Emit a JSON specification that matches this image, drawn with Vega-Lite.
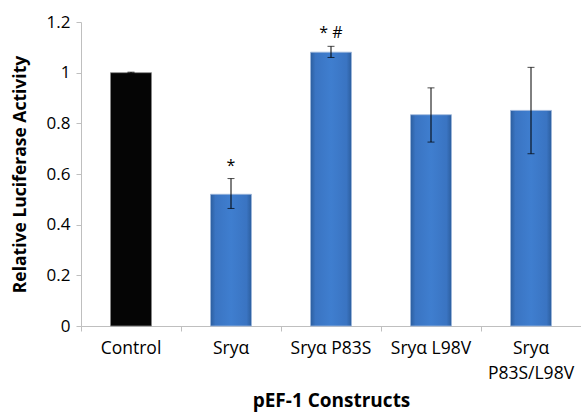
{
  "$schema": "https://vega.github.io/schema/vega-lite/v6.json",
  "width": 500,
  "height": 304,
  "autosize": "none",
  "padding": {"left": 81, "top": 22, "right": 0, "bottom": 86},
  "background": "white",
  "config": {
    "view": {"stroke": null},
    "font": "Open Sans",
    "axis": {"grid": false, "domainColor": "#bfbfbf", "tickColor": "#bfbfbf", "labelColor": "#000", "titleColor": "#000", "labelFont": "Open Sans", "titleFont": "Open Sans"}
  },
  "data": {
    "values": [
      {"construct": "Control", "mean": 1.0, "lo": 0.998, "hi": 1.002, "note": ""},
      {"construct": "Sryα", "mean": 0.52, "lo": 0.464, "hi": 0.582, "note": "*"},
      {"construct": "Sryα P83S", "mean": 1.081, "lo": 1.06, "hi": 1.104, "note": "* #"},
      {"construct": "Sryα L98V", "mean": 0.834, "lo": 0.726, "hi": 0.94, "note": ""},
      {"construct": "Sryα P83S/L98V", "mean": 0.851, "lo": 0.68, "hi": 1.021, "note": ""}
    ]
  },
  "encoding": {
    "x": {
      "field": "construct",
      "type": "nominal",
      "sort": ["Control", "Sryα", "Sryα P83S", "Sryα L98V", "Sryα P83S/L98V"],
      "scale": {"paddingInner": 0, "paddingOuter": 0},
      "axis": {
        "title": "pEF-1 Constructs",
        "titleFontSize": 19,
        "titleFontWeight": "bold",
        "titlePadding": 10,
        "labelAngle": 0,
        "labelFontSize": 17.5,
        "labelLineHeight": 25,
        "labelPadding": 8,
        "tickSize": 5,
        "bandPosition": 0,
        "labelExpr": "datum.value == 'Sryα P83S/L98V' ? ['Sryα', 'P83S/L98V'] : datum.label"
      }
    }
  },
  "layer": [
    {
      "transform": [{"filter": "datum.construct != 'Control'"}],
      "mark": {
        "type": "bar",
        "width": 41,
        "stroke": "#9fb8dc",
        "strokeWidth": 0.8,
        "color": {
          "gradient": "linear", "x1": 0, "y1": 0, "x2": 1, "y2": 0,
          "stops": [
            {"offset": 0, "color": "#2c5e9e"},
            {"offset": 0.12, "color": "#3a74c2"},
            {"offset": 0.5, "color": "#3f7ecf"},
            {"offset": 0.88, "color": "#3a74c2"},
            {"offset": 1, "color": "#2c5e9e"}
          ]
        }
      },
      "encoding": {
        "y": {
          "field": "mean",
          "type": "quantitative",
          "scale": {"domain": [0, 1.2], "nice": false},
          "axis": {
            "title": "Relative Luciferase Activity",
            "titleFontSize": 17.5,
            "titleFontWeight": "bold",
            "titleX": -61,
            "titleBaseline": "middle",
            "values": [0, 0.2, 0.4, 0.6, 0.8, 1, 1.2],
            "format": "~g",
            "labelFontSize": 17,
            "labelPadding": 6,
            "tickSize": 5
          }
        }
      }
    },
    {
      "transform": [{"filter": "datum.construct == 'Control'"}],
      "mark": {"type": "bar", "width": 41, "color": "#050505", "stroke": "#888888", "strokeWidth": 0.8},
      "encoding": {"y": {"field": "mean", "type": "quantitative"}}
    },
    {
      "mark": {"type": "rule", "color": "#000", "strokeWidth": 1},
      "encoding": {"y": {"field": "lo", "type": "quantitative"}, "y2": {"field": "hi"}}
    },
    {
      "mark": {"type": "tick", "color": "#000", "size": 7, "thickness": 1},
      "encoding": {"y": {"field": "lo", "type": "quantitative"}}
    },
    {
      "mark": {"type": "tick", "color": "#000", "size": 7, "thickness": 1},
      "encoding": {"y": {"field": "hi", "type": "quantitative"}}
    },
    {
      "mark": {"type": "text", "fontSize": 16, "color": "#000", "baseline": "middle", "dy": -13},
      "encoding": {"y": {"field": "hi", "type": "quantitative"}, "text": {"field": "note"}}
    }
  ]
}
